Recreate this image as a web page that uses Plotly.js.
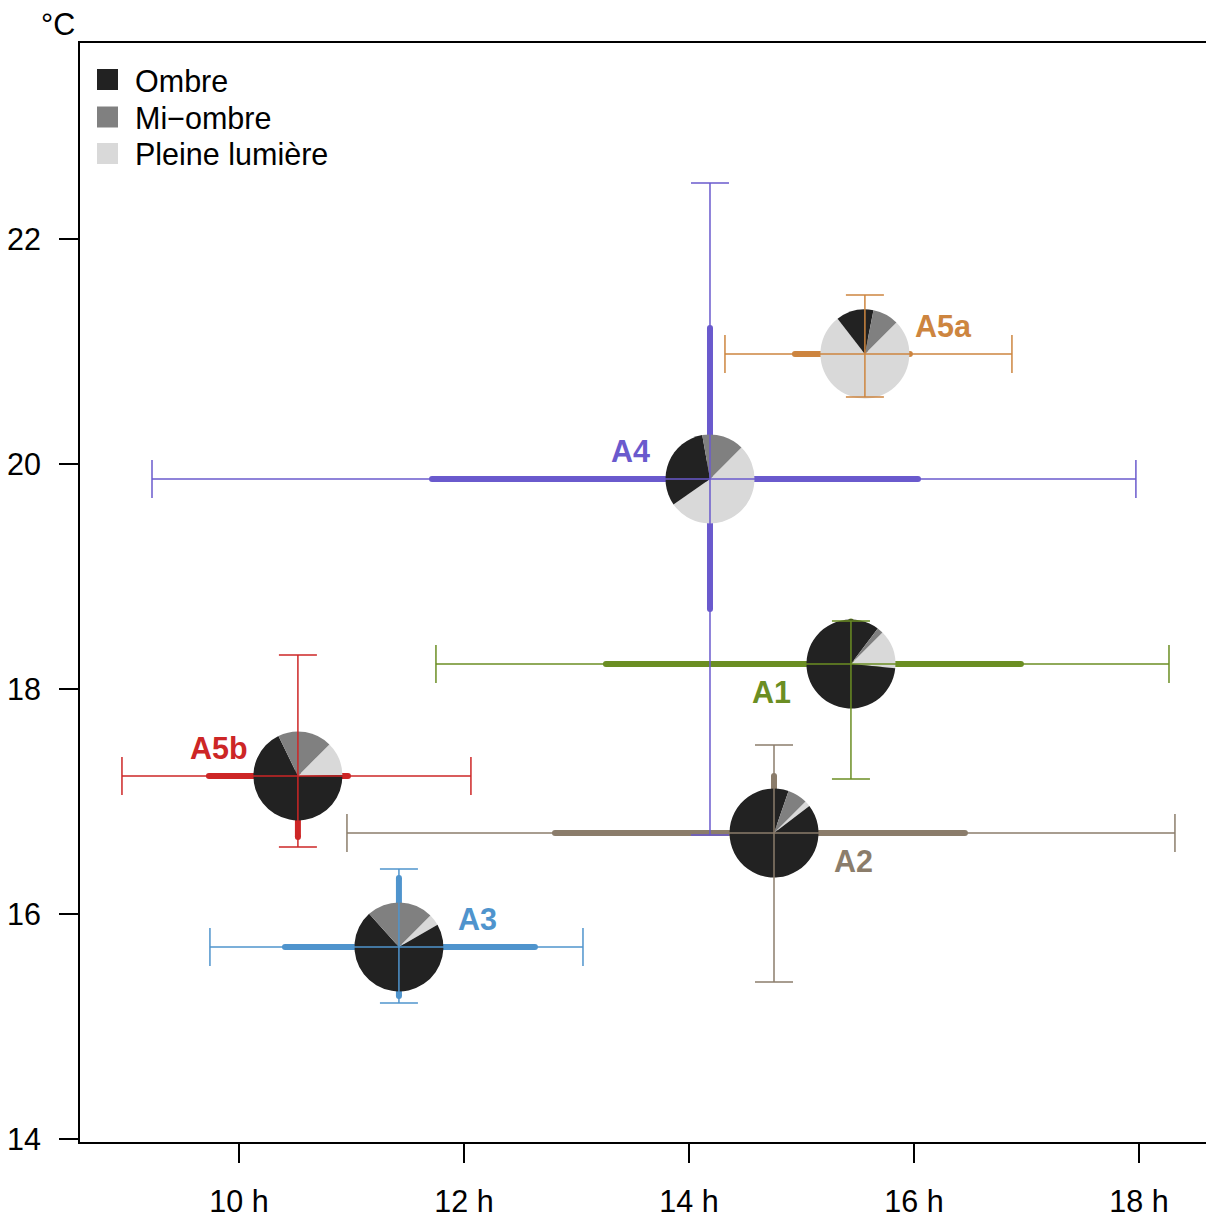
<!DOCTYPE html>
<html><head><meta charset="utf-8">
<script src="https://cdn.plot.ly/plotly-3.0.1.min.js"></script>
<style>html,body{margin:0;padding:0;overflow:hidden;background:#fff}#chart{width:1206px;height:1213px}</style>
</head><body><div id="chart"></div>
<script>
// ---------------- data ----------------
const groups = ['A1', 'A2', 'A3', 'A4', 'A5a', 'A5b'];
const hourMean   = [15.44, 14.756, 11.422, 14.187, 15.564, 10.524];
const tempMean   = [18.222, 16.72, 15.707, 19.867, 20.978, 17.227];
const hourMin    = [11.751, 10.96, 9.742, 9.227, 14.32, 8.96];
const hourMax    = [18.267, 18.32, 13.058, 17.973, 16.871, 12.062];
const hourQ1     = [13.262, 12.809, 10.409, 11.716, 14.942, 9.733];
const hourQ3     = [16.951, 16.453, 12.631, 16.036, 15.964, 10.969];
const tempMin    = [17.2, 15.396, 15.209, 16.702, 20.596, 16.596];
const tempMax    = [18.604, 17.502, 16.4, 22.498, 21.502, 18.302];
const tempQ1     = [17.9, 16.4, 15.27, 18.711, 20.7, 16.684];
const tempQ3     = [18.6, 17.227, 16.32, 21.209, 21.25, 17.5];
const shareOmbre    = [0.838, 0.907, 0.717, 0.319, 0.136, 0.681];
const shareMiOmbre  = [0.022, 0.072, 0.242, 0.153, 0.094, 0.197];
const sharePleine   = [0.140, 0.021, 0.042, 0.528, 0.769, 0.122];
const lightLabels = ['Ombre', 'Mi\u2212ombre', 'Pleine lumière'];
const xTickVals = [10, 12, 14, 16, 18];
const xTickText = ['10 h', '12 h', '14 h', '16 h', '18 h'];
const yTickVals = [14, 16, 18, 20, 22];

// ---------------- style ----------------
const groupColors = ['#6B8E23', '#8B7D6B', '#4F94CD', '#6A5ACD', '#CD853F', '#CD2626'];
const lightColors = ['#222222', '#808080', '#D9D9D9'];
const labelSideX = [-1, 1, 1, -1, 1, -1];
const labelSideY = [-1, -1, 1, 1, 1, 1];
const FONT = 'Liberation Sans, Arial, sans-serif';
const FS = 30.5;
const W = 1206, H = 1213;
const M = {l: 80, r: 0, t: 43, b: 71};
const PW = W - M.l - M.r, PH = H - M.t - M.b;
const X_RANGE = [8.587, 18.596];
const Y_RANGE = [13.973, 23.742];
const PIE_R = 44.5;
const CAP = 19;

const traces = [];
const shapes = [];
const annotations = [];

groups.forEach((g, i) => {
  const c = groupColors[i];
  // thick (interquartile) bars
  traces.push({type: 'scatter', mode: 'lines+markers', x: [hourQ1[i], hourQ3[i]], y: [tempMean[i], tempMean[i]],
    line: {color: c, width: 6}, marker: {color: c, size: 6}, hoverinfo: 'skip', showlegend: false});
  traces.push({type: 'scatter', mode: 'lines+markers', x: [hourMean[i], hourMean[i]], y: [tempQ1[i], tempQ3[i]],
    line: {color: c, width: 6}, marker: {color: c, size: 6}, hoverinfo: 'skip', showlegend: false});
  // pies
  const cx = (hourMean[i] - X_RANGE[0]) / (X_RANGE[1] - X_RANGE[0]);
  const cy = (tempMean[i] - Y_RANGE[0]) / (Y_RANGE[1] - Y_RANGE[0]);
  const hx = PIE_R / PW, hy = PIE_R / PH;
  traces.push({type: 'pie', values: [sharePleine[i], shareOmbre[i], shareMiOmbre[i]],
    labels: [lightLabels[2], lightLabels[0], lightLabels[1]],
    marker: {colors: [lightColors[2], lightColors[0], lightColors[1]], line: {width: 0}},
    sort: false, direction: 'clockwise', rotation: 45, textinfo: 'none', hoverinfo: 'skip', showlegend: false,
    domain: {x: [cx - hx, cx + hx], y: [cy - hy, cy + hy]}});
  // thin (range) lines above pies
  const ln = {color: c, width: 1.5};
  shapes.push({type: 'line', layer: 'above', xref: 'x', yref: 'y', x0: hourMin[i], x1: hourMax[i], y0: tempMean[i], y1: tempMean[i], line: ln});
  shapes.push({type: 'line', layer: 'above', xref: 'x', yref: 'y', x0: hourMean[i], x1: hourMean[i], y0: tempMin[i], y1: tempMax[i], line: ln});
  [hourMin[i], hourMax[i]].forEach(v => shapes.push({type: 'line', layer: 'above', xref: 'x', yref: 'y',
    x0: v, x1: v, ysizemode: 'pixel', yanchor: tempMean[i], y0: -CAP, y1: CAP, line: ln}));
  [tempMin[i], tempMax[i]].forEach(v => shapes.push({type: 'line', layer: 'above', xref: 'x', yref: 'y',
    y0: v, y1: v, xsizemode: 'pixel', xanchor: hourMean[i], x0: -CAP, x1: CAP, line: ln}));
  annotations.push({x: hourMean[i], y: tempMean[i], xref: 'x', yref: 'y', text: '<b>' + g + '</b>', showarrow: false,
    xanchor: 'center', yanchor: 'middle', xshift: 79 * labelSideX[i], yshift: 28 * labelSideY[i],
    font: {family: FONT, size: FS, color: c}});
});

// legend (manual keys)
const px2x = p => (p - M.l) / PW;
const px2y = p => (H - M.b - p) / PH;
const legendRows = [79.5, 117, 153.5];
lightLabels.forEach((lab, k) => {
  shapes.push({type: 'rect', xref: 'paper', yref: 'paper', layer: 'above',
    x0: px2x(97), x1: px2x(118), y0: px2y(legendRows[k] + 10.5), y1: px2y(legendRows[k] - 10.5),
    fillcolor: lightColors[k], line: {width: 0}});
  annotations.push({xref: 'paper', yref: 'paper', x: px2x(133), y: px2y(legendRows[k] + 1), text: lab, showarrow: false,
    xanchor: 'left', yanchor: 'middle', font: {family: FONT, size: FS, color: '#000'}});
});
annotations.push({xref: 'paper', yref: 'paper', x: px2x(58), y: px2y(24), text: '°C', showarrow: false,
  xanchor: 'center', yanchor: 'middle', font: {family: FONT, size: FS, color: '#000'}});

const layout = {
  width: W, height: H, margin: M, paper_bgcolor: '#fff', plot_bgcolor: '#fff', showlegend: false,
  font: {family: FONT, size: FS, color: '#000'},
  xaxis: {range: X_RANGE, tickvals: xTickVals, ticktext: xTickText, ticks: 'outside', ticklen: 19, tickwidth: 2,
    tickcolor: '#000', showline: true, linewidth: 2, linecolor: '#000', mirror: true, showgrid: false, zeroline: false,
    ticklabelstandoff: 12, tickfont: {family: FONT, size: FS, color: '#000'}, fixedrange: true},
  yaxis: {range: Y_RANGE, tickvals: yTickVals, ticks: 'outside', ticklen: 19, tickwidth: 2,
    tickcolor: '#000', showline: true, linewidth: 2, linecolor: '#000', mirror: false, showgrid: false, zeroline: false,
    ticklabelstandoff: 12, tickfont: {family: FONT, size: FS, color: '#000'}, fixedrange: true},
  shapes: shapes, annotations: annotations, hovermode: false
};
Plotly.newPlot('chart', traces, layout, {displayModeBar: false, staticPlot: true});
</script></body></html>
